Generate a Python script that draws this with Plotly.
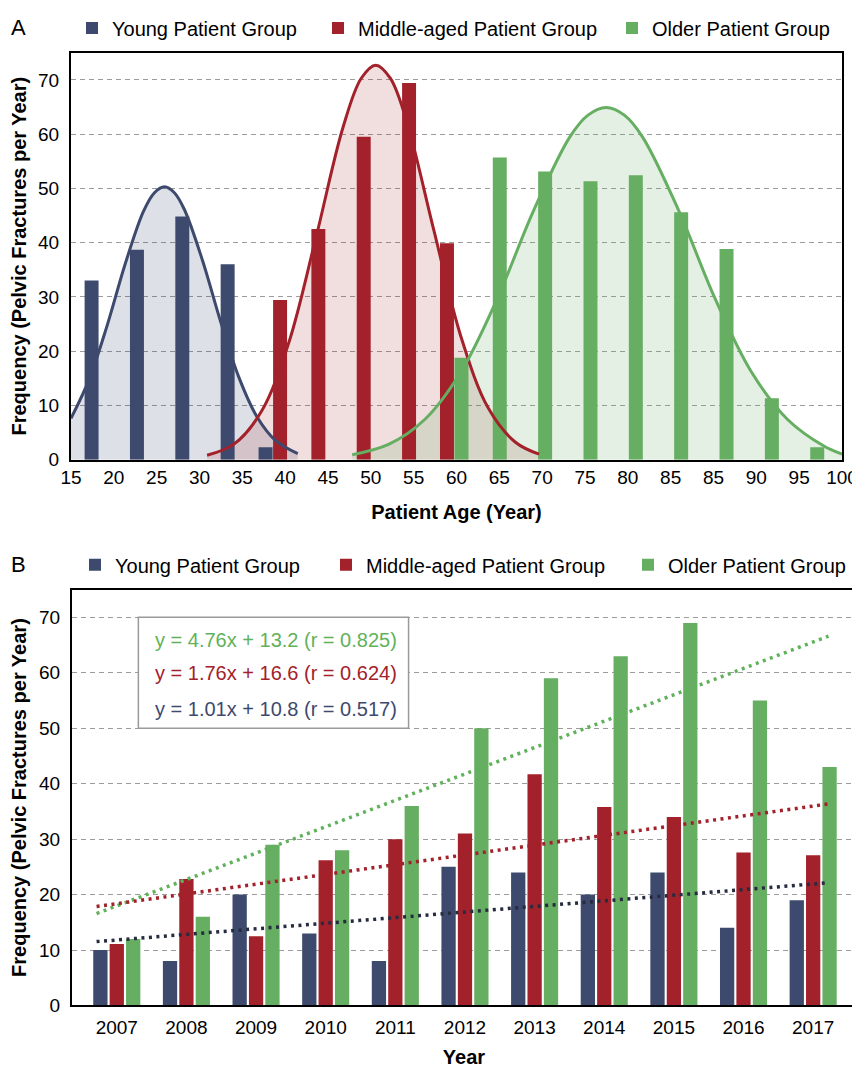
import plotly.graph_objects as go

# ---------------- Panel A data ----------------
age_tick_labels = ["15", "20", "25", "30", "35", "40", "45", "50", "55", "60", "65",
                   "70", "75", "80", "85", "85", "90", "95", "100"]

young_bins = [17.5, 22.5, 27.5, 32.5, 37.5]
young_freq = [33.0, 38.7, 44.8, 36.0, 2.3]
middle_bins = [37.5, 42.5, 47.5, 52.5, 57.5]
middle_freq = [29.4, 42.5, 59.5, 69.4, 39.9]
older_bins = [57.5, 62.5, 67.5, 72.5, 77.5, 82.5, 87.5, 92.5, 97.5]
older_freq = [18.8, 55.7, 53.1, 51.3, 52.4, 45.6, 38.8, 11.3, 2.3]

# fitted distribution curves
young_curve_age = [15, 17, 19, 21, 23, 24.2, 25.3, 26.4, 27.5, 29.5, 31.5, 33.5, 35.5, 37.5, 40]
young_curve_freq = [7.6, 14.8, 24.8, 36.2, 45.8, 49.2, 50.3, 49.2, 46.1, 36.7, 25.4, 15.2, 7.9, 3.6, 1.1]
middle_curve_age = [30, 33, 36, 39, 42, 45, 47, 48.6, 50.2, 52, 55, 58, 61, 64, 66.6]
middle_curve_freq = [0.8, 2.9, 8.9, 21.5, 40.9, 61.3, 70.3, 72.7, 70.3, 62.4, 42.3, 22.6, 9.5, 3.2, 1.0]
older_curve_age = [46, 50, 54, 58, 62, 66, 70, 72, 74, 76, 78, 82, 86, 90, 94, 98, 100]
older_curve_freq = [0.9, 2.8, 7.4, 16.2, 29.7, 45.9, 59.5, 63.5, 64.9, 63.5, 59.5, 45.9, 29.7, 16.2, 7.4, 2.5, 1.0]

# ---------------- Panel B data ----------------
years = ["2007", "2008", "2009", "2010", "2011", "2012", "2013", "2014", "2015", "2016", "2017"]
young_year = [10, 8, 20, 13, 8, 25, 24, 20, 24, 14, 19]
middle_year = [11.1, 22.8, 12.5, 26.2, 30.0, 31.0, 41.7, 35.8, 34.0, 27.6, 27.1]
older_year = [12, 16, 29, 28, 36, 50, 59, 63, 69, 55, 43]

trend_slope = {"older": 4.76, "middle": 1.76, "young": 1.01}
trend_intercept = {"older": 13.2, "middle": 16.6, "young": 10.8}
trend_r = {"older": 0.825, "middle": 0.624, "young": 0.517}

group_names = {"young": "Young Patient Group", "middle": "Middle-aged Patient Group",
               "older": "Older Patient Group"}

# ---------------- styles ----------------
BLUE = "#3d4a6e"
RED = "#a3212a"
GREEN = "#66ae62"
FILL = {"young": "rgba(61,74,110,0.17)", "middle": "rgba(163,33,42,0.15)",
        "older": "rgba(102,174,98,0.18)"}
TREND = {"young": "#262b3f", "middle": "#a3212a", "older": "#5fb25a"}
COLORS = {"young": BLUE, "middle": RED, "older": GREEN}
TEXTCOL = {"young": BLUE, "middle": RED, "older": "#5fb25a"}
FONT = "Liberation Sans, Arial, Helvetica, sans-serif"
GRID = "#9c9c9c"
TICK_SIZE = 19
TITLE_SIZE = 20
LEG_SIZE = 20

# figure size (page has an 8px body margin)
PAGE_OFF = 8
W, H = 852, 1060
ML = 30
PW, PH = W - ML, H

def fx(page_x):
    return (page_x - PAGE_OFF - ML) / PW

def fy(page_y):
    return 1 - (page_y - PAGE_OFF) / PH

fig = go.Figure()

# ---- Panel A: filled areas under the fitted curves (base axes) ----
curves = {
    "young": (young_curve_age, young_curve_freq),
    "middle": (middle_curve_age, middle_curve_freq),
    "older": (older_curve_age, older_curve_freq),
}
for key, (ax, ay) in curves.items():
    fig.add_trace(go.Scatter(x=ax, y=ay, mode="lines", line=dict(width=0, shape="spline"),
                             fill="tozeroy", fillcolor=FILL[key], hoverinfo="skip",
                             showlegend=False, xaxis="x", yaxis="y"))

# ---- Panel A: bars (overlay axes so they sit above the fills) ----
BAR_W = 1.54
all_bins = {"young": young_bins, "middle": middle_bins, "older": older_bins}
order = ["young", "middle", "older"]

def offsets_for(key):
    offs = []
    idx = order.index(key)
    for b in all_bins[key]:
        left = idx > 0 and b in all_bins[order[idx - 1]]
        right = idx < 2 and b in all_bins[order[idx + 1]]
        if right:
            offs.append(-1.82)
        elif left:
            offs.append(-0.22)
        else:
            offs.append(-1.0)
    return offs

freqs = {"young": young_freq, "middle": middle_freq, "older": older_freq}
legA = {"young": "legend", "middle": "legend2", "older": "legend3"}
legB = {"young": "legend4", "middle": "legend5", "older": "legend6"}
for key in order:
    fig.add_trace(go.Bar(x=all_bins[key], y=freqs[key], width=BAR_W, offset=offsets_for(key),
                         marker=dict(color=COLORS[key], line=dict(width=0)),
                         name=group_names[key], legend=legA[key],
                         xaxis="x3", yaxis="y3"))

for key, (ax, ay) in curves.items():
    fig.add_trace(go.Scatter(x=ax, y=ay, mode="lines",
                             line=dict(color=COLORS[key], width=3, shape="spline"),
                             hoverinfo="skip", showlegend=False, xaxis="x3", yaxis="y3"))

# ---- Panel B: grouped bars ----
BW = 0.205
b_offsets = {"young": -0.338, "middle": -0.1025, "older": 0.133}
year_vals = {"young": young_year, "middle": middle_year, "older": older_year}
xb = list(range(len(years)))
for key in order:
    fig.add_trace(go.Bar(x=xb, y=year_vals[key], width=BW, offset=b_offsets[key],
                         marker=dict(color=COLORS[key], line=dict(width=0)),
                         name=group_names[key], legend=legB[key],
                         xaxis="x2", yaxis="y2"))

# trend lines from the regression equations (x = 1 for 2007)
t_start, t_end = 0.71, 11.22
for key in ["older", "middle", "young"]:
    a, b = trend_slope[key], trend_intercept[key]
    fig.add_trace(go.Scatter(x=[t_start - 1, t_end - 1], y=[a * t_start + b, a * t_end + b],
                             mode="lines", line=dict(color=TREND[key], width=3.5, dash="3px,4.5px"),
                             hoverinfo="skip", showlegend=False, xaxis="x2", yaxis="y2"))

# ---------------- layout ----------------
axis_common = dict(showline=True, linecolor="black", linewidth=2, mirror=True, ticks="",
                   tickfont=dict(family=FONT, size=TICK_SIZE, color="black"), zeroline=False,
                   automargin=False)

ytitle = "<b>Frequency (Pelvic Fractures per Year)</b>"

def leg(xpage, ypage):
    return dict(orientation="h", x=fx(xpage), y=fy(ypage), xanchor="left", yanchor="middle",
                font=dict(family=FONT, size=LEG_SIZE, color="black"),
                bgcolor="rgba(0,0,0,0)", borderwidth=0)

fig.update_layout(
    template="none",
    width=W, height=H, autosize=False,
    margin=dict(l=ML, r=0, t=0, b=0, pad=0),
    paper_bgcolor="white", plot_bgcolor="white",
    barmode="overlay",
    font=dict(family=FONT, color="black"),
    xaxis=dict(domain=[fx(71), fx(842)], range=[15, 100], anchor="y",
               tickvals=[15 + i * 85 / 18 for i in range(len(age_tick_labels))],
               ticktext=age_tick_labels, showgrid=False,
               title=dict(text="<b>Patient Age (Year)</b>", font=dict(size=TITLE_SIZE, family=FONT),
                          standoff=18),
               **axis_common),
    yaxis=dict(domain=[fy(455), fy(45)], range=[0, 75], anchor="x", tickvals=list(range(0, 71, 10)),
               showgrid=True, gridcolor=GRID, gridwidth=1, griddash="5px,4px",
               ticklabelstandoff=6,
               title=dict(text=ytitle, font=dict(size=TITLE_SIZE, family=FONT), standoff=10),
               **axis_common),
    xaxis3=dict(overlaying="x", range=[15, 100], anchor="y3", visible=False),
    yaxis3=dict(overlaying="y", range=[0, 75], anchor="x3", visible=False),
    xaxis2=dict(domain=[fx(72), fx(856)], range=[-0.643, 10.615], anchor="y2",
                tickvals=xb, ticktext=years, showgrid=False, ticklabelstandoff=4,
                title=dict(text="<b>Year</b>", font=dict(size=TITLE_SIZE, family=FONT), standoff=14),
                **axis_common),
    yaxis2=dict(domain=[fy(1005), fy(586)], range=[0, 75], anchor="x2", tickvals=list(range(0, 71, 10)),
                showgrid=True, gridcolor=GRID, gridwidth=1, griddash="5px,4px",
                ticklabelstandoff=6,
                title=dict(text=ytitle, font=dict(size=TITLE_SIZE, family=FONT), standoff=10),
                **axis_common),
    legend=leg(72, 20), legend2=leg(318, 20), legend3=leg(612, 20),
    legend4=leg(75, 561), legend5=leg(326, 561), legend6=leg(628, 561),
)

# equation box
fig.add_shape(type="rect", xref="x2", yref="y2", x0=0.31, x1=4.19, y0=50, y1=70,
              line=dict(color="#9a9a9a", width=1.5), fillcolor="white", layer="above")
eq_y = {"older": 65.9, "middle": 59.9, "young": 53.5}
for key in ["older", "middle", "young"]:
    txt = f"y = {trend_slope[key]:.2f}x + {trend_intercept[key]:.1f} (r = {trend_r[key]:.3f})"
    fig.add_annotation(text=txt, xref="x2", yref="y2", x=0.515, y=eq_y[key],
                       xanchor="left", yanchor="middle", showarrow=False,
                       font=dict(family=FONT, size=20, color=TEXTCOL[key]))

# panel letters
for letter, ypix in (("A", 20), ("B", 561)):
    fig.add_annotation(text=letter, xref="paper", yref="paper", x=fx(18), y=fy(ypix),
                       xanchor="center", yanchor="middle", showarrow=False,
                       font=dict(family=FONT, size=22, color="black"))

fig.write_html("out.html")
